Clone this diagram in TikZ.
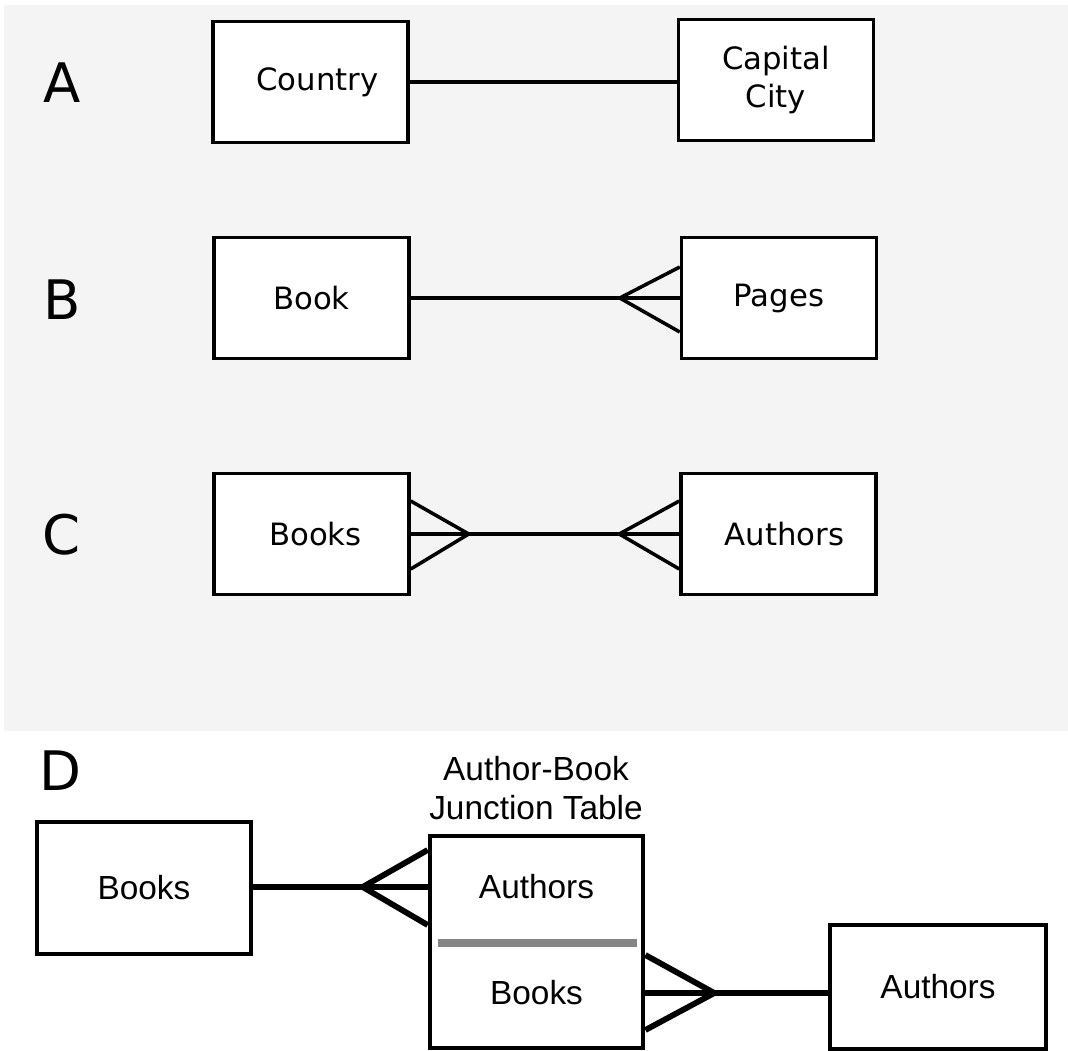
\documentclass[tikz,border=0pt]{standalone}
\usepackage{fontspec}
\newfontfamily\erfont{DejaVu Sans}
\newfontfamily\jtfont{Liberation Sans}
\usetikzlibrary{calc}
\definecolor{panelbg}{HTML}{F4F4F4}
\definecolor{sepgray}{HTML}{858585}

\begin{document}
\begin{tikzpicture}[x=0.02cm, y=-0.02cm,
  entity/.style={draw, fill=white, line width=2pt, minimum width=3.9cm, minimum height=2.42cm, align=center, font=\erfont\fontsize{17.5}{21.5}\selectfont},
  bigent/.style={draw, fill=white, line width=2.7pt, align=center, font=\jtfont\fontsize{19}{22}\selectfont},
  rel/.style={line width=2pt, line join=miter},
  relbig/.style={line width=3.3pt, line join=miter},
  tag/.style={font=\erfont\fontsize{31}{31}\selectfont}]
\useasboundingbox (0,0) rectangle (1068,1051);
\fill[panelbg] (4,5) rectangle (1068,731);
\node[tag] (ta) at (62,83) {A};
\node[tag] (tb) at (62,300) {B};
\node[tag] (tc) at (62,535) {C};
\node[tag] (td) at (60,771) {D};
\node[entity] (country) at (310.5,82) {\hspace*{8pt}Country};
\node[entity] (capital) at (776,80) {Capital\\City};
\draw[rel] (country.east) -- (country.east -| capital.west);
\node[entity] (book) at (311.5,298) {Book};
\node[entity] (pages) at (779,298) {Pages};
\coordinate (pgfoot) at ($(pages.west)+(-60,0)$);
\draw[rel] (book.east) -- (pages.west);
\draw[rel] ($(pages.west)+(0,-31)$) -- (pgfoot) -- ($(pages.west)+(0,34)$);
\node[entity] (books) at (311.5,534) {\hspace*{4.5pt}Books};
\node[entity] (authors) at (778.5,534) {\hspace*{7pt}Authors};
\coordinate (bkfoot) at ($(books.east)+(58,0)$);
\coordinate (aufoot) at ($(authors.west)+(-60,0)$);
\draw[rel] (books.east) -- (authors.west);
\draw[rel] ($(books.east)+(0,-33)$) -- (bkfoot) -- ($(books.east)+(0,35)$);
\draw[rel] ($(authors.west)+(0,-33)$) -- (aufoot) -- ($(authors.west)+(0,35)$);
\node[bigent, minimum width=4.28cm, minimum height=2.64cm] (dbooks) at (144,888) {Books};
\node[bigent, minimum width=4.26cm, minimum height=4.24cm] (jt) at (536.5,942) {};
\node[bigent, draw=none, fill=none] (jtitle) at (536,788) {Author-Book\\Junction Table};
\node[bigent, draw=none, fill=none] (jauth) at ($(jt)+(0,-55)$) {Authors};
\node[bigent, draw=none, fill=none] (jbook) at ($(jt)+(0,51)$) {Books};
\draw[sepgray, line width=4pt] ($(jt.west)+(10,1)$) -- ($(jt.east)+(-8,1)$);
\node[bigent, minimum width=4.32cm, minimum height=2.48cm] (dauthors) at (938,987) {Authors};
\coordinate (jtop) at (jt.west |- jauth);
\coordinate (jbot) at (jt.east |- jbook);
\coordinate (jfootl) at ($(jtop)+(-65,0)$);
\coordinate (jfootr) at ($(jbot)+(69,0)$);
\draw[relbig] (dbooks.east |- jtop) -- (jtop);
\draw[relbig] ($(jtop)+(0,-37)$) -- (jfootl) -- ($(jtop)+(0,38)$);
\draw[relbig] (jbot) -- (dauthors.west |- jbot);
\draw[relbig] ($(jbot)+(0,-38)$) -- (jfootr) -- ($(jbot)+(0,37)$);
\end{tikzpicture}
\end{document}
